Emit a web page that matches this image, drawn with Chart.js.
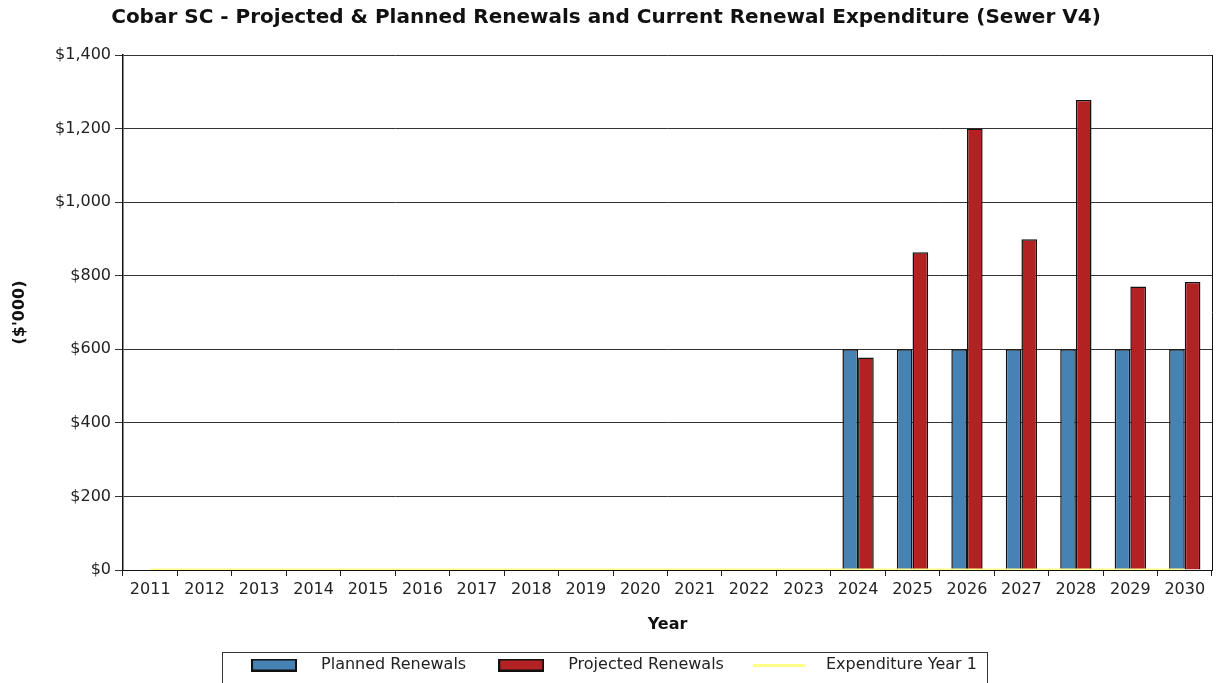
<!DOCTYPE html>
<html>
<head>
<meta charset="utf-8">
<script src="https://cdn.jsdelivr.net/npm/chart.js@4"></script>
<style>
  html, body { margin: 0; padding: 0; background: #fff; }
</style>
</head>
<body>
<canvas id="chart" width="1217" height="683"></canvas>
<script>
const years = ['2011', '2012', '2013', '2014', '2015', '2016', '2017', '2018', '2019', '2020',
               '2021', '2022', '2023', '2024', '2025', '2026', '2027', '2028', '2029', '2030'];
const plannedRenewals = [0, 0, 0, 0, 0, 0, 0, 0, 0, 0, 0, 0, 0, 600, 600, 600, 600, 600, 600, 600];
const projectedRenewals = [0, 0, 0, 0, 0, 0, 0, 0, 0, 0, 0, 0, 0, 578, 864, 1200, 899, 1278, 771, 783];
const expenditureYear1 = [0, 0, 0, 0, 0, 0, 0, 0, 0, 0, 0, 0, 0, 0, 0, 0, 0, 0, 0, 0];
const yTicks = [0, 200, 400, 600, 800, 1000, 1200, 1400];

const BLUE = '#4682b4';
const RED = '#b22222';
const YELLOW = '#ffff88';

Chart.defaults.font.family = "'DejaVu Sans', Verdana, sans-serif";
Chart.defaults.color = '#222';

// small canvases used as legend swatches
function swatch(fill, w, h, border) {
    const c = document.createElement('canvas');
    c.width = w; c.height = h;
    const g = c.getContext('2d');
    g.fillStyle = fill;
    g.fillRect(0, 0, w, h);
    if (border) {
        g.strokeStyle = '#111';
        g.lineWidth = 2;
        g.strokeRect(1, 1, w - 2, h - 2);
    }
    return c;
}
const legendIcons = [swatch(BLUE, 46, 13, true), swatch(RED, 46, 13, true), swatch(YELLOW, 52, 3, false)];

const frame = {
    id: 'frame',
    beforeDatasetsDraw(chart) {
        const { ctx, chartArea } = chart;
        ctx.save();
        ctx.strokeStyle = '#111';
        ctx.lineWidth = 1;
        ctx.beginPath();
        ctx.moveTo(chartArea.right + 0.5, chartArea.top);
        ctx.lineTo(chartArea.right + 0.5, chartArea.bottom);
        ctx.stroke();
        ctx.restore();
    },
    afterDraw(chart) {
        const boxes = chart.legend.legendHitBoxes;
        if (!boxes || !boxes.length) return;
        const first = boxes[0], last = boxes[boxes.length - 1];
        const ctx = chart.ctx;
        const cy = first.top + first.height / 2;
        ctx.save();
        ctx.strokeStyle = '#333';
        ctx.lineWidth = 1;
        ctx.strokeRect(Math.round(first.left) - 12.5, Math.round(cy - 13) + 0.5,
                       Math.round(last.left + last.width - first.left + 23), 60);
        ctx.restore();
    }
};

new Chart(document.getElementById('chart'), {
    type: 'bar',
    data: {
        labels: years,
        datasets: [
            { label: 'Planned Renewals', data: plannedRenewals, backgroundColor: BLUE,
              borderColor: '#111', borderWidth: 1.5, order: 1 },
            { label: 'Projected Renewals', data: projectedRenewals, backgroundColor: RED,
              borderColor: '#111', borderWidth: 1.5, order: 1 },
            { type: 'line', label: 'Expenditure Year 1', data: expenditureYear1,
              borderColor: YELLOW, backgroundColor: YELLOW, borderWidth: 3,
              pointRadius: 0, fill: false, order: 0 }
        ]
    },
    options: {
        responsive: false,
        animation: false,
        categoryPercentage: 0.575,
        barPercentage: 1,
        layout: { padding: { left: 0, right: 5, top: 0, bottom: 0 } },
        plugins: {
            title: {
                display: true,
                text: "Cobar SC - Projected & Planned Renewals and Current Renewal Expenditure (Sewer V4)",
                font: { size: 20, weight: 'bold' },
                color: '#111',
                padding: { top: 6, bottom: 25 }
            },
            legend: {
                position: 'bottom',
                labels: {
                    usePointStyle: true,
                    pointStyleWidth: 78,
                    boxHeight: 13,
                    padding: 16,
                    font: { size: 16 },
                    color: '#222',
                    generateLabels(chart) {
                        const items = Chart.defaults.plugins.legend.labels.generateLabels(chart);
                        items.sort((a, b) => a.datasetIndex - b.datasetIndex);
                        items.forEach(it => { it.pointStyle = legendIcons[it.datasetIndex]; });
                        return items;
                    }
                }
            },
            tooltip: { enabled: false }
        },
        scales: {
            x: {
                offset: true,
                grid: { display: true, drawOnChartArea: false, drawTicks: true, tickLength: 6,
                        color: '#222', offset: true },
                border: { color: '#111', width: 1 },
                ticks: { font: { size: 16 }, color: '#222', padding: 4, maxRotation: 0, autoSkip: false },
                title: { display: true, text: 'Year', font: { size: 16, weight: 'bold' }, color: '#111',
                         padding: { top: 10, bottom: 7 } },
                afterFit(scale) { scale.height = 71; }
            },
            y: {
                min: 0,
                max: 1400,
                afterBuildTicks(scale) { scale.ticks = yTicks.map(v => ({ value: v })); },
                ticks: {
                    font: { size: 16 }, color: '#222', padding: 4,
                    callback: v => '$' + v.toLocaleString('en-US')
                },
                grid: { color: '#333', lineWidth: 1, tickLength: 8 },
                border: { color: '#111', width: 1.5 },
                title: { display: true, text: "($'000)", font: { size: 16, weight: 'bold' }, color: '#111',
                         padding: { top: 10, bottom: 0 } },
                afterFit(scale) { scale.width = 123; }
            }
        }
    },
    plugins: [frame]
});
</script>
</body>
</html>
